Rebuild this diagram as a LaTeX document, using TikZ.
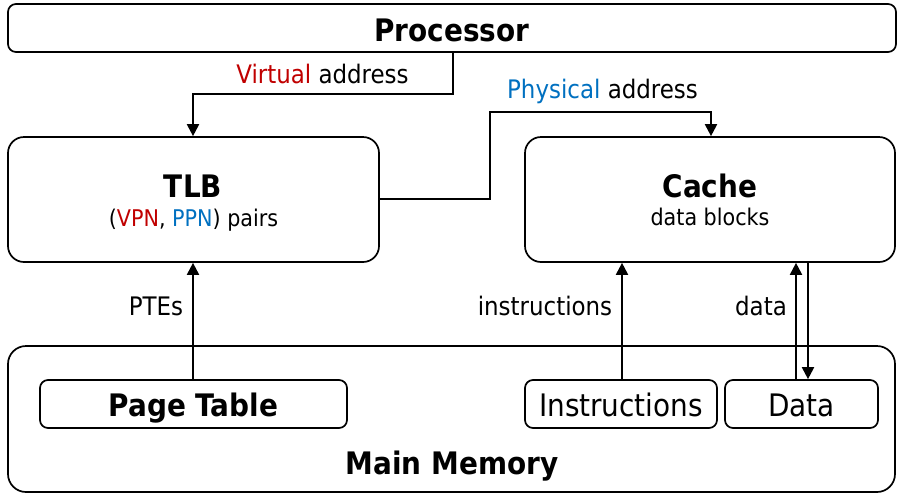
\documentclass[tikz,border=0pt]{standalone}
\usepackage{fontspec}
\setmainfont{DejaVu Sans Condensed}
\usetikzlibrary{arrows.meta}
\definecolor{vred}{RGB}{192,0,0}
\definecolor{pblue}{RGB}{0,112,192}
\tikzset{
  box/.style={draw, line width=1.7pt, rounded corners=#1, inner sep=0pt},
  box/.default=8pt,
  conn/.style={line width=2pt, -{Triangle[length=12pt,width=12pt]}},
  lbl/.style={font=\fontsize{25.5}{27}\selectfont, inner sep=0pt, anchor=base},
  big/.style={font=\bfseries\fontsize{31}{33}\selectfont, inner sep=0pt, anchor=base},
  sub/.style={font=\fontsize{23}{25}\selectfont, inner sep=0pt, anchor=base},
  reg/.style={font=\fontsize{31}{33}\selectfont, inner sep=0pt, anchor=base},
}
\begin{document}
\begin{tikzpicture}[x=1pt,y=-1pt]
\useasboundingbox (0,0) rectangle (904,496);
% boxes
\node[box, minimum width=888pt, minimum height=48pt] (proc) at (452,28) {};
\node[big] (proct) at (452,41) {Processor};
\node[box=16pt, minimum width=371pt, minimum height=125pt] (tlb) at (193.5,199.5) {};
\node[big] (tlbt) at (193,197) {TLB};
\node[sub] (tlbs) at (193.5,226) {(\textcolor{vred}{VPN}, \textcolor{pblue}{PPN}) pairs};
\node[box=16pt, minimum width=370pt, minimum height=125pt] (cache) at (710,199.5) {};
\node[big] (cachet) at (710,197) {Cache};
\node[sub] (caches) at (710,225.5) {data blocks};
\node[box=18pt, minimum width=887pt, minimum height=146pt] (mem) at (451.5,419) {};
\node[big] (memt) at (452,474.5) {Main Memory};
\node[box=8pt, minimum width=307pt, minimum height=48pt] (pt) at (193.5,404) {};
\node[big] (ptt) at (193.5,416) {Page Table};
\node[box=8pt, minimum width=192pt, minimum height=48pt] (ins) at (621,404) {};
\node[reg] (inst) at (621,416) {Instructions};
\node[box=8pt, minimum width=153pt, minimum height=48pt] (dat) at (801.5,404) {};
\node[reg] (datt) at (801.5,416) {Data};
% connectors
\coordinate (v1) at (453,94);
\coordinate (v2) at (193,94);
\draw[conn] (proc.south -| v1) -- (v1) -- (v2) -- (tlb.north -| v2);
\node[lbl] (vl) at (322.5,83.5) {\textcolor{vred}{Virtual} address};
\coordinate (p1) at (490,199);
\coordinate (p2) at (490,112);
\coordinate (p3) at (711,112);
\draw[conn] (tlb.east |- p1) -- (p1) -- (p2) -- (p3) -- (cache.north -| p3);
\node[lbl] (pl) at (602.5,98.5) {\textcolor{pblue}{Physical} address};
\coordinate (px) at (193,300);
\draw[conn] (pt.north -| px) -- (tlb.south -| px);
\node[lbl] (ptel) at (156,315) {PTEs};
\coordinate (ix) at (622,300);
\draw[conn] (ins.north -| ix) -- (cache.south -| ix);
\node[lbl] (il) at (545,315) {instructions};
\coordinate (du) at (796,300);
\coordinate (dd) at (808,300);
\draw[conn] (dat.north -| du) -- (cache.south -| du);
\draw[conn] (cache.south -| dd) -- (dat.north -| dd);
\node[lbl] (dl) at (761,315) {data};
\end{tikzpicture}
\end{document}
